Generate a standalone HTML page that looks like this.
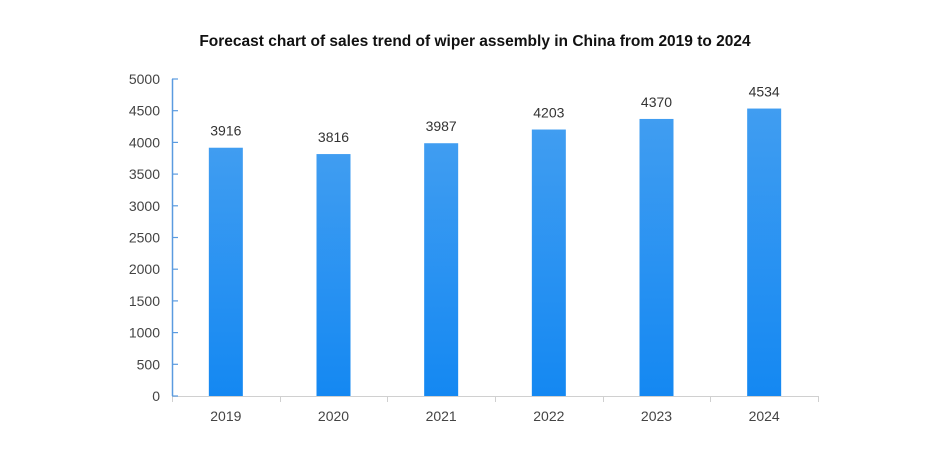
<!DOCTYPE html>
<html><head><meta charset="utf-8"><style>
body{margin:0;background:#fff;width:950px;height:446px;overflow:hidden}
text{font-family:"Liberation Sans",sans-serif}
</style></head><body>
<svg id="chart" width="950" height="446" xmlns="http://www.w3.org/2000/svg">
<defs><linearGradient id="g" x1="0" y1="0" x2="0" y2="1"><stop offset="0" stop-color="#409df1"/><stop offset="1" stop-color="#1488f2"/></linearGradient></defs>
<text x="475" y="46" text-anchor="middle" font-size="15.5" font-weight="bold" fill="#111">Forecast chart of sales trend of wiper assembly in China from 2019 to 2024</text>
</svg>
<script>
const categories=["2019","2020","2021","2022","2023","2024"];
const sales=[3916,3816,3987,4203,4370,4534];
const yTicks=[0,500,1000,1500,2000,2500,3000,3500,4000,4500,5000];
const svg=document.getElementById('chart');const NS='http://www.w3.org/2000/svg';
const x0=172,x1=818,y0=396,yTop=79,yMax=5000;
const y=v=>y0-(v/yMax)*(y0-yTop);
const bw=(x1-x0)/categories.length;
function mk(t,a,txt){const e=document.createElementNS(NS,t);for(const k in a)e.setAttribute(k,a[k]);if(txt!==undefined)e.textContent=txt;svg.appendChild(e);return e;}
let e=mk('line',{x1:x0,x2:x1,y1:y0+0.5,y2:y0+0.5,stroke:'#d0d0d0','stroke-width':1});

for(let i=0;i<=categories.length;i++){const tx=Math.round(x0+i*bw)+0.5;e=mk('line',{x1:tx,x2:tx,y1:y0,y2:y0+6,stroke:'#d0d0d0'});
}
e=mk('line',{x1:x0+0.5,x2:x0+0.5,y1:yTop,y2:y0,stroke:'#5a9be0','stroke-width':1.5});

yTicks.forEach(v=>{const ty=y(v);e=mk('line',{x1:x0,x2:x0+6,y1:ty,y2:ty,stroke:'#5a9be0','stroke-width':1.2});

e=mk('text',{x:x0-12,y:ty+5,'text-anchor':'end','font-size':14,fill:'#444'},v);
});
categories.forEach((c,i)=>{const cx=x0+(i+0.5)*bw;const v=sales[i];
e=mk('rect',{x:cx-17,y:y(v),width:34,height:y0-y(v),fill:'url(#g)'});

e=mk('text',{x:cx,y:y(v)-12,'text-anchor':'middle','font-size':14,fill:'#333'},v);

e=mk('text',{x:cx,y:y0+25,'text-anchor':'middle','font-size':14,fill:'#444'},c);
});
</script>
</body></html>
